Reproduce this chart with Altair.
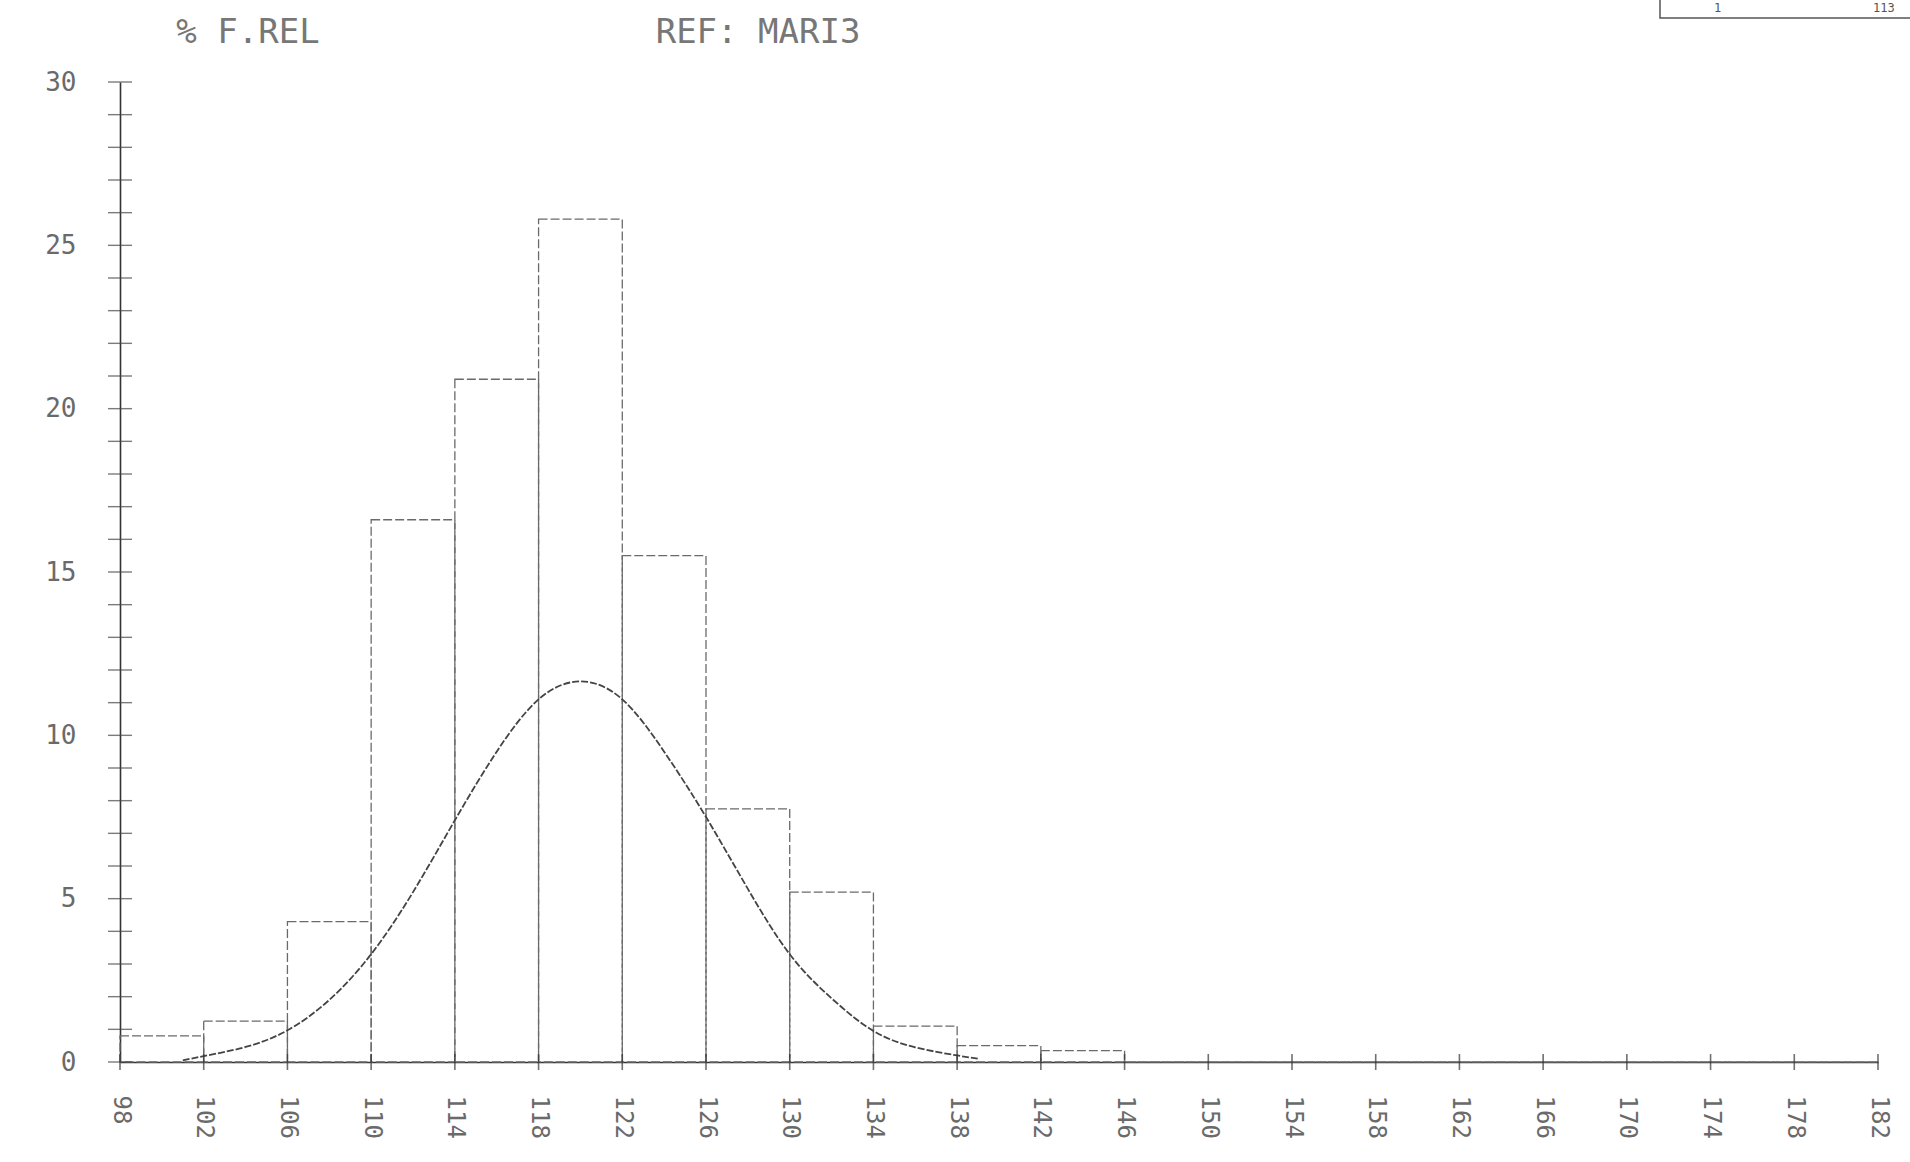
import altair as alt
import pandas as pd

# ---- data ----
bin_start = [98, 102, 106, 110, 114, 118, 122, 126, 130, 134, 138, 142, 146, 150, 154, 158, 162, 166, 170, 174, 178]
bin_end = [102, 106, 110, 114, 118, 122, 126, 130, 134, 138, 142, 146, 150, 154, 158, 162, 166, 170, 174, 178, 182]
rel_freq = [0.8, 1.25, 4.3, 16.6, 20.9, 25.8, 15.5, 7.75, 5.2, 1.1, 0.5, 0.35, 0, 0, 0, 0, 0, 0, 0, 0, 0]

curve_x = [101, 102, 104, 106, 108, 110, 112, 114, 116, 118, 120, 122, 124, 126, 128, 130, 132, 134, 136, 138, 139]
curve_y = [0.05, 0.18, 0.46, 0.97, 1.9, 3.3, 5.2, 7.4, 9.5, 11.1, 11.65, 11.1, 9.5, 7.5, 5.3, 3.3, 1.95, 0.95, 0.45, 0.2, 0.1]

x_tick_values = [98, 102, 106, 110, 114, 118, 122, 126, 130, 134, 138, 142, 146, 150, 154, 158, 162, 166, 170, 174, 178, 182]
y_label_values = [0, 5, 10, 15, 20, 25, 30]
y_minor_ticks = [0, 1, 2, 3, 4, 5, 6, 7, 8, 9, 10, 11, 12, 13, 14, 15, 16, 17, 18, 19, 20,
                 21, 22, 23, 24, 25, 26, 27, 28, 29, 30]

FONT = "DejaVu Sans Mono"

bars_df = pd.DataFrame({"start": bin_start, "end": bin_end, "freq": rel_freq})
curve_df = pd.DataFrame({"x": curve_x, "y": curve_y})
xt_df = pd.DataFrame({"x": x_tick_values})
yt_df = pd.DataFrame({"y": y_minor_ticks})

xscale = alt.Scale(domain=[98, 182], nice=False, zero=False)
yscale = alt.Scale(domain=[0, 30], nice=False, zero=True)

xaxis = alt.Axis(values=x_tick_values, labelAngle=90, labelAlign="left", labelBaseline="middle",
                 labelPadding=33, ticks=False, labelFont=FONT, labelFontSize=24,
                 labelColor="#6a6a6a", domainColor="#333333", domainWidth=1.6, title=None,
                 labelOverlap=False)
yaxis = alt.Axis(values=y_label_values, ticks=False, labelPadding=44, labelFont=FONT,
                 labelFontSize=26, labelColor="#6a6a6a", domainColor="#333333",
                 domainWidth=1.6, title=None)

bars = alt.Chart(bars_df).mark_bar(
    fill="transparent", stroke="#6a6a6a", strokeWidth=1.3, strokeDash=[9, 3]
).encode(
    x=alt.X("start:Q", scale=xscale, axis=xaxis),
    x2="end:Q",
    y=alt.Y("freq:Q", scale=yscale, axis=yaxis),
    y2=alt.datum(0),
)

curve = alt.Chart(curve_df).mark_line(
    interpolate="natural", color="#444444", strokeWidth=1.8, strokeDash=[7, 2]
).encode(x="x:Q", y="y:Q")

xticks = alt.Chart(xt_df).mark_tick(
    orient="vertical", size=16, thickness=1.6, color="#333333"
).encode(x="x:Q", y=alt.datum(0))

yticks = alt.Chart(yt_df).mark_tick(
    orient="horizontal", size=24, thickness=1.4, color="#444444"
).encode(y="y:Q", x=alt.datum(98))

one = pd.DataFrame({"k": [0]})
title1 = alt.Chart(one).mark_text(
    text="% F.REL", font=FONT, fontSize=34, color="#777777", align="center", baseline="middle"
).encode(x=alt.value(128), y=alt.value(-49))
title2 = alt.Chart(one).mark_text(
    text="REF: MARI3", font=FONT, fontSize=34, color="#777777", align="center", baseline="middle"
).encode(x=alt.value(638), y=alt.value(-49))

box = alt.Chart(one).mark_rect(
    fill="transparent", stroke="#555555", strokeWidth=1.5
).encode(x=alt.value(1540), x2=alt.value(1840), y=alt.value(-144), y2=alt.value(-64))
box_t1 = alt.Chart(one).mark_text(
    text="1", font=FONT, fontSize=12, color="#555555", align="left", baseline="alphabetic"
).encode(x=alt.value(1594), y=alt.value(-70))
box_t2 = alt.Chart(one).mark_text(
    text="113", font=FONT, fontSize=12, color="#555555", align="left", baseline="alphabetic"
).encode(x=alt.value(1753), y=alt.value(-70))

chart = alt.layer(
    bars, curve, xticks, yticks, title1, title2, box, box_t1, box_t2
).properties(
    width=1758, height=980,
    padding={"left": 120, "top": 82, "right": 32, "bottom": 100},
    autosize="none",
    background="white",
).configure_view(stroke=None).configure_axis(grid=False)

chart.save("out.html", embed_options={"renderer": "svg", "actions": False})
